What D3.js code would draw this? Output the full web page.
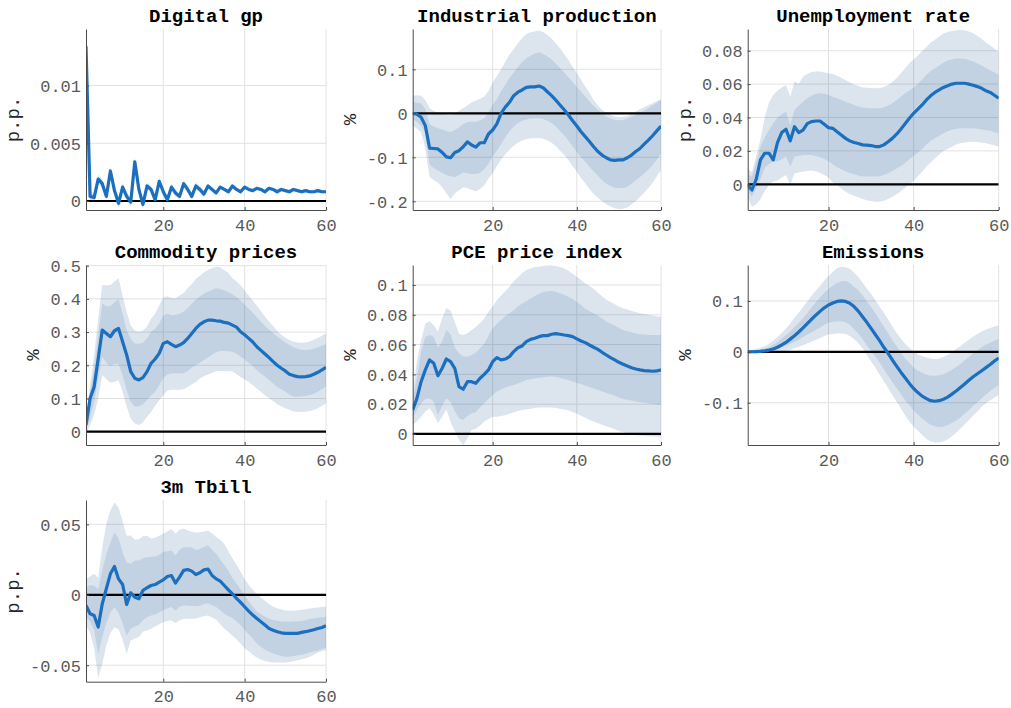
<!DOCTYPE html>
<html>
<head>
<meta charset="utf-8">
<script src="https://cdn.jsdelivr.net/npm/d3@7"></script>
<style>
  html, body { margin: 0; padding: 0; background: #fff; }
  svg { display: block; font-family: "Liberation Mono", "DejaVu Sans Mono", monospace; }
</style>
</head>
<body>
<svg id="chart" width="1011" height="708"></svg>
<script>
// Impulse responses over a 60-period horizon: median with 68% and 90% bands.
const horizon = d3.range(1, 61);
const xTickValues = [20, 40, 60];

// Digital gp
const digitalMed = [0.0134, 0.0004, 0.0003, 0.0019, 0.0015, 0.0004, 0.0026, 0.0009, -0.0002, 0.0012,
  0.0004, -0.0001, 0.0034, 0.0010, -0.0003, 0.0013, 0.0010, 0.0001, 0.0017, 0.0008,
  0.0001, 0.0012, 0.0007, 0.0004, 0.0015, 0.0010, 0.0004, 0.0013, 0.0010, 0.0006,
  0.0013, 0.0010, 0.0007, 0.0012, 0.0010, 0.0008, 0.0013, 0.0010, 0.0008, 0.0012,
  0.0010, 0.0009, 0.0011, 0.0010, 0.0008, 0.0011, 0.0010, 0.0008, 0.0010, 0.0009,
  0.0008, 0.0010, 0.0009, 0.0008, 0.0009, 0.0008, 0.0008, 0.0009, 0.0008, 0.0008];
const digitalHi90 = [0.0135, 0.0008, 0.0007, 0.0023, 0.0019, 0.0008, 0.0030, 0.0013, 0.0002, 0.0016,
  0.0008, 0.0003, 0.0038, 0.0014, 0.0001, 0.0016, 0.0013, 0.0004, 0.0020, 0.0011,
  0.0004, 0.0015, 0.0010, 0.0007, 0.0018, 0.0013, 0.0007, 0.0016, 0.0013, 0.0009,
  0.00145, 0.00115, 0.00085, 0.00135, 0.00115, 0.00095, 0.00145, 0.00115, 0.00095, 0.00135,
  0.00115, 0.00105, 0.00125, 0.00115, 0.00095, 0.00125, 0.00115, 0.00095, 0.00115, 0.00105,
  0.00095, 0.00115, 0.00105, 0.00095, 0.00105, 0.00095, 0.00095, 0.00105, 0.00095, 0.00095];
const digitalLo90 = [0.0133, 0.0000, -0.0001, 0.0015, 0.0011, 0.0000, 0.0022, 0.0005, -0.0006, 0.0008,
  0.0000, -0.0005, 0.0030, 0.0006, -0.0007, 0.0010, 0.0007, -0.0002, 0.0014, 0.0005,
  -0.0002, 0.0009, 0.0004, 0.0001, 0.0012, 0.0007, 0.0001, 0.0010, 0.0007, 0.0003,
  0.00115, 0.00085, 0.00055, 0.00105, 0.00085, 0.00065, 0.00115, 0.00085, 0.00065, 0.00105,
  0.00085, 0.00075, 0.00095, 0.00085, 0.00065, 0.00095, 0.00085, 0.00065, 0.00085, 0.00075,
  0.00065, 0.00085, 0.00075, 0.00065, 0.00075, 0.00065, 0.00065, 0.00075, 0.00065, 0.00065];
const digitalHi68 = [0.01345, 0.0006, 0.0005, 0.0021, 0.0017, 0.0006, 0.0028, 0.0011, 0.0000, 0.0014,
  0.0006, 0.0001, 0.0036, 0.0012, -0.0001, 0.00145, 0.00115, 0.00025, 0.00185, 0.00095,
  0.00025, 0.00135, 0.00085, 0.00055, 0.00165, 0.00115, 0.00055, 0.00145, 0.00115, 0.00075,
  0.00138, 0.00108, 0.00078, 0.00128, 0.00108, 0.00088, 0.00138, 0.00108, 0.00088, 0.00128,
  0.00108, 0.00098, 0.00118, 0.00108, 0.00088, 0.00118, 0.00108, 0.00088, 0.00108, 0.00098,
  0.00088, 0.00108, 0.00098, 0.00088, 0.00098, 0.00088, 0.00088, 0.00098, 0.00088, 0.00088];
const digitalLo68 = [0.01335, 0.0002, 0.0001, 0.0017, 0.0013, 0.0002, 0.0024, 0.0007, -0.0004, 0.0010,
  0.0002, -0.0003, 0.0032, 0.0008, -0.0005, 0.00115, 0.00085, -0.00005, 0.00155, 0.00065,
  -0.00005, 0.00105, 0.00055, 0.00025, 0.00135, 0.00085, 0.00025, 0.00115, 0.00085, 0.00045,
  0.00122, 0.00092, 0.00062, 0.00112, 0.00092, 0.00072, 0.00122, 0.00092, 0.00072, 0.00112,
  0.00092, 0.00082, 0.00102, 0.00092, 0.00072, 0.00102, 0.00092, 0.00072, 0.00092, 0.00082,
  0.00072, 0.00092, 0.00082, 0.00072, 0.00082, 0.00072, 0.00072, 0.00082, 0.00072, 0.00072];
const digitalYLim = [-0.00078, 0.0149];
const digitalYTicks = [0, 0.005, 0.01];
const digitalYTickLabels = ["0", "0.005", "0.01"];

// Industrial production
const ipMed = [0.000, -0.002, -0.009, -0.028, -0.079, -0.080, -0.081, -0.089, -0.099, -0.101,
  -0.089, -0.085, -0.076, -0.065, -0.072, -0.077, -0.067, -0.067, -0.047, -0.038,
  -0.024, 0.000, 0.014, 0.025, 0.040, 0.048, 0.053, 0.059, 0.060, 0.060,
  0.062, 0.058, 0.049, 0.040, 0.030, 0.019, 0.008, -0.004, -0.017, -0.029,
  -0.042, -0.053, -0.064, -0.076, -0.087, -0.095, -0.101, -0.106, -0.107, -0.106,
  -0.106, -0.101, -0.095, -0.087, -0.080, -0.070, -0.061, -0.051, -0.040, -0.029];
const ipHi90 = [0.040, 0.041, 0.040, 0.030, 0.012, 0.005, 0.002, -0.001, -0.003, -0.004,
  0.000, 0.006, 0.012, 0.018, 0.025, 0.029, 0.033, 0.038, 0.050, 0.070,
  0.085, 0.100, 0.117, 0.133, 0.146, 0.159, 0.171, 0.180, 0.184, 0.186,
  0.188, 0.185, 0.178, 0.170, 0.159, 0.148, 0.135, 0.121, 0.106, 0.091,
  0.076, 0.061, 0.046, 0.030, 0.018, 0.008, 0.001, -0.004, -0.007, -0.009,
  -0.008, -0.006, -0.001, 0.004, 0.009, 0.014, 0.019, 0.023, 0.028, 0.032];
const ipHi68 = [0.025, 0.024, 0.022, 0.010, -0.025, -0.030, -0.034, -0.037, -0.040, -0.043,
  -0.038, -0.032, -0.025, -0.020, -0.019, -0.020, -0.016, -0.012, 0.002, 0.020,
  0.032, 0.050, 0.065, 0.080, 0.093, 0.105, 0.116, 0.125, 0.131, 0.136,
  0.138, 0.135, 0.129, 0.123, 0.113, 0.103, 0.093, 0.082, 0.071, 0.060,
  0.049, 0.038, 0.027, 0.017, 0.008, 0.000, -0.007, -0.012, -0.015, -0.016,
  -0.015, -0.012, -0.008, -0.004, 0.001, 0.006, 0.012, 0.018, 0.024, 0.030];
const ipLo68 = [-0.013, -0.020, -0.028, -0.045, -0.115, -0.125, -0.130, -0.135, -0.140, -0.143,
  -0.145, -0.140, -0.134, -0.136, -0.138, -0.138, -0.135, -0.127, -0.115, -0.098,
  -0.085, -0.070, -0.055, -0.040, -0.030, -0.022, -0.017, -0.014, -0.012, -0.011,
  -0.011, -0.013, -0.017, -0.022, -0.030, -0.040, -0.050, -0.062, -0.075, -0.088,
  -0.100, -0.110, -0.122, -0.132, -0.142, -0.152, -0.160, -0.165, -0.169, -0.170,
  -0.170, -0.167, -0.160, -0.152, -0.145, -0.137, -0.128, -0.118, -0.105, -0.091];
const ipLo90 = [-0.028, -0.035, -0.043, -0.080, -0.145, -0.152, -0.158, -0.168, -0.182, -0.195,
  -0.182, -0.175, -0.168, -0.170, -0.174, -0.178, -0.172, -0.164, -0.148, -0.136,
  -0.120, -0.105, -0.093, -0.083, -0.074, -0.067, -0.062, -0.059, -0.057, -0.057,
  -0.056, -0.058, -0.062, -0.067, -0.075, -0.085, -0.095, -0.106, -0.120, -0.133,
  -0.147, -0.159, -0.172, -0.183, -0.192, -0.200, -0.207, -0.212, -0.216, -0.218,
  -0.217, -0.214, -0.207, -0.200, -0.190, -0.180, -0.170, -0.158, -0.143, -0.129];
const ipYLim = [-0.2198, 0.1916];
const ipYTicks = [-0.2, -0.1, 0, 0.1];
const ipYTickLabels = ["-0.2", "-0.1", "0", "0.1"];

// Unemployment rate
const unMed = [-0.0006, -0.0034, 0.0030, 0.0146, 0.0186, 0.0186, 0.0146, 0.0250, 0.0310, 0.0330,
  0.0260, 0.0345, 0.0310, 0.0325, 0.0363, 0.0375, 0.0379, 0.0379, 0.0359, 0.0339,
  0.0335, 0.0315, 0.0295, 0.0275, 0.0260, 0.0250, 0.0244, 0.0236, 0.0234, 0.0232,
  0.0226, 0.0226, 0.0236, 0.0255, 0.0275, 0.0300, 0.0330, 0.0362, 0.0395, 0.0425,
  0.0450, 0.0475, 0.0505, 0.0530, 0.0550, 0.0565, 0.0580, 0.0590, 0.0600, 0.0605,
  0.0605, 0.0605, 0.0600, 0.0593, 0.0585, 0.0575, 0.0560, 0.0550, 0.0533, 0.0515];
const unHi90 = [0.0096, 0.0070, 0.0170, 0.0270, 0.0400, 0.0490, 0.0535, 0.0560, 0.0580, 0.0595,
  0.0525, 0.0615, 0.0600, 0.0645, 0.0660, 0.0672, 0.0675, 0.0675, 0.0670, 0.0665,
  0.0660, 0.0650, 0.0638, 0.0625, 0.0610, 0.0598, 0.0588, 0.0580, 0.0578, 0.0576,
  0.0575, 0.0575, 0.0582, 0.0595, 0.0612, 0.0635, 0.0665, 0.0695, 0.0725, 0.0748,
  0.0772, 0.0798, 0.0822, 0.0847, 0.0866, 0.0885, 0.0903, 0.0912, 0.0918, 0.0922,
  0.0924, 0.0922, 0.0915, 0.0904, 0.0890, 0.0872, 0.0848, 0.0832, 0.0812, 0.0794];
const unHi68 = [0.0056, 0.0048, 0.0130, 0.0225, 0.0280, 0.0325, 0.0365, 0.0398, 0.0420, 0.0435,
  0.0355, 0.0445, 0.0470, 0.0495, 0.0515, 0.0530, 0.0540, 0.0545, 0.0542, 0.0535,
  0.0525, 0.0515, 0.0505, 0.0495, 0.0485, 0.0475, 0.0466, 0.0460, 0.0457, 0.0455,
  0.0455, 0.0456, 0.0462, 0.0472, 0.0485, 0.0505, 0.0525, 0.0545, 0.0562, 0.0578,
  0.0602, 0.0628, 0.0655, 0.0678, 0.0695, 0.0712, 0.0728, 0.0741, 0.0748, 0.0753,
  0.0754, 0.0752, 0.0745, 0.0735, 0.0724, 0.0712, 0.0696, 0.0683, 0.0669, 0.0655];
const unLo68 = [-0.0034, -0.0074, -0.0020, 0.0030, 0.0100, 0.0122, 0.0136, 0.0136, 0.0150, 0.0166,
  0.0106, 0.0166, 0.0170, 0.0176, 0.0176, 0.0176, 0.0170, 0.0162, 0.0152, 0.0138,
  0.0120, 0.0102, 0.0090, 0.0078, 0.0068, 0.0060, 0.0053, 0.0048, 0.0046, 0.0046,
  0.0046, 0.0048, 0.0055, 0.0066, 0.0080, 0.0095, 0.0110, 0.0128, 0.0150, 0.0170,
  0.0190, 0.0212, 0.0238, 0.0260, 0.0275, 0.0290, 0.0305, 0.0318, 0.0326, 0.0332,
  0.0335, 0.0336, 0.0335, 0.0335, 0.0332, 0.0328, 0.0324, 0.0320, 0.0312, 0.0305];
const unLo90 = [-0.0074, -0.0134, -0.0120, -0.0090, -0.0040, -0.0005, 0.0016, 0.0022, 0.0040, 0.0056,
  -0.0004, 0.0066, 0.0070, 0.0076, 0.0080, 0.0082, 0.0078, 0.0068, 0.0056, 0.0040,
  0.0010, -0.0004, -0.0025, -0.0045, -0.0058, -0.0068, -0.0078, -0.0088, -0.0096, -0.0100,
  -0.0104, -0.0104, -0.0098, -0.0088, -0.0075, -0.0060, -0.0042, -0.0020, 0.0002, 0.0020,
  0.0048, 0.0075, 0.0105, 0.0130, 0.0155, 0.0178, 0.0200, 0.0212, 0.0225, 0.0238,
  0.0246, 0.0250, 0.0254, 0.0255, 0.0254, 0.0250, 0.0246, 0.0240, 0.0232, 0.0225];
const unYLim = [-0.0154, 0.093];
const unYTicks = [0, 0.02, 0.04, 0.06, 0.08];
const unYTickLabels = ["0", "0.02", "0.04", "0.06", "0.08"];

// Commodity prices
const comMed = [0.020, 0.100, 0.135, 0.220, 0.306, 0.296, 0.286, 0.304, 0.311, 0.271,
  0.231, 0.181, 0.161, 0.156, 0.163, 0.181, 0.206, 0.219, 0.236, 0.266,
  0.271, 0.263, 0.256, 0.261, 0.268, 0.281, 0.296, 0.311, 0.323, 0.331,
  0.336, 0.336, 0.334, 0.333, 0.329, 0.327, 0.321, 0.315, 0.301, 0.292,
  0.281, 0.270, 0.256, 0.245, 0.234, 0.223, 0.211, 0.200, 0.191, 0.183,
  0.173, 0.169, 0.166, 0.165, 0.166, 0.168, 0.173, 0.179, 0.186, 0.194];
const comHi90 = [0.040, 0.140, 0.230, 0.340, 0.442, 0.441, 0.442, 0.452, 0.462, 0.410,
  0.360, 0.320, 0.305, 0.300, 0.305, 0.316, 0.340, 0.355, 0.380, 0.405,
  0.408, 0.403, 0.402, 0.410, 0.418, 0.432, 0.445, 0.460, 0.470, 0.480,
  0.487, 0.493, 0.497, 0.495, 0.487, 0.478, 0.462, 0.452, 0.440, 0.425,
  0.410, 0.395, 0.379, 0.363, 0.347, 0.332, 0.318, 0.303, 0.292, 0.283,
  0.276, 0.271, 0.269, 0.268, 0.269, 0.272, 0.277, 0.282, 0.289, 0.296];
const comHi68 = [0.030, 0.120, 0.190, 0.290, 0.387, 0.378, 0.378, 0.390, 0.400, 0.355,
  0.305, 0.280, 0.266, 0.265, 0.268, 0.281, 0.300, 0.310, 0.326, 0.350,
  0.355, 0.351, 0.352, 0.355, 0.362, 0.372, 0.385, 0.397, 0.407, 0.416,
  0.422, 0.427, 0.432, 0.430, 0.425, 0.420, 0.414, 0.405, 0.395, 0.383,
  0.370, 0.358, 0.345, 0.331, 0.318, 0.307, 0.297, 0.287, 0.278, 0.269,
  0.261, 0.254, 0.250, 0.247, 0.246, 0.247, 0.250, 0.254, 0.259, 0.264];
const comLo68 = [0.005, 0.040, 0.090, 0.160, 0.226, 0.207, 0.198, 0.205, 0.205, 0.170,
  0.125, 0.090, 0.075, 0.077, 0.083, 0.095, 0.110, 0.120, 0.140, 0.162,
  0.172, 0.176, 0.176, 0.175, 0.176, 0.183, 0.193, 0.200, 0.208, 0.216,
  0.224, 0.232, 0.240, 0.243, 0.243, 0.242, 0.241, 0.235, 0.226, 0.218,
  0.207, 0.198, 0.185, 0.175, 0.166, 0.156, 0.145, 0.135, 0.128, 0.120,
  0.112, 0.106, 0.105, 0.106, 0.108, 0.110, 0.114, 0.120, 0.128, 0.136];
const comLo90 = [-0.005, 0.020, 0.050, 0.100, 0.171, 0.158, 0.148, 0.150, 0.155, 0.120,
  0.075, 0.040, 0.025, 0.020, 0.028, 0.045, 0.060, 0.078, 0.095, 0.110,
  0.124, 0.126, 0.126, 0.126, 0.128, 0.135, 0.143, 0.150, 0.160, 0.167,
  0.172, 0.177, 0.183, 0.183, 0.182, 0.182, 0.181, 0.173, 0.165, 0.157,
  0.150, 0.140, 0.130, 0.120, 0.110, 0.101, 0.092, 0.083, 0.077, 0.071,
  0.066, 0.061, 0.060, 0.060, 0.060, 0.062, 0.066, 0.071, 0.078, 0.085];
const comYLim = [-0.04, 0.502];
const comYTicks = [0, 0.1, 0.2, 0.3, 0.4, 0.5];
const comYTickLabels = ["0", "0.1", "0.2", "0.3", "0.4", "0.5"];

// PCE price index
const pceMed = [0.0161, 0.0239, 0.0351, 0.0430, 0.0497, 0.0474, 0.0391, 0.0441, 0.0503, 0.0485,
  0.0441, 0.0318, 0.0300, 0.0351, 0.0351, 0.0340, 0.0374, 0.0400, 0.0430, 0.0485,
  0.0512, 0.0497, 0.0503, 0.0519, 0.0553, 0.0579, 0.0591, 0.0620, 0.0635, 0.0642,
  0.0653, 0.0660, 0.0660, 0.0669, 0.0673, 0.0669, 0.0664, 0.0660, 0.0653, 0.0638,
  0.0624, 0.0613, 0.0597, 0.0582, 0.0568, 0.0548, 0.0530, 0.0512, 0.0497, 0.0481,
  0.0468, 0.0456, 0.0445, 0.0436, 0.0430, 0.0425, 0.0423, 0.0421, 0.0423, 0.0430];
const pceHi90 = [0.0284, 0.0485, 0.0630, 0.0740, 0.0758, 0.0730, 0.0687, 0.0776, 0.0845, 0.0828,
  0.0750, 0.0675, 0.0664, 0.0676, 0.0698, 0.0718, 0.0745, 0.0775, 0.0820, 0.0855,
  0.0899, 0.0930, 0.0960, 0.0988, 0.1025, 0.1050, 0.1080, 0.1100, 0.1110, 0.1120,
  0.1123, 0.1127, 0.1130, 0.1130, 0.1128, 0.1120, 0.1110, 0.1095, 0.1075, 0.1055,
  0.1035, 0.1010, 0.0993, 0.0975, 0.0950, 0.0925, 0.0900, 0.0885, 0.0870, 0.0855,
  0.0843, 0.0835, 0.0826, 0.0818, 0.0810, 0.0805, 0.0800, 0.0795, 0.0790, 0.0787];
const pceHi68 = [0.0217, 0.0380, 0.0553, 0.0650, 0.0664, 0.0650, 0.0580, 0.0620, 0.0698, 0.0670,
  0.0580, 0.0540, 0.0520, 0.0519, 0.0530, 0.0545, 0.0575, 0.0605, 0.0660, 0.0709,
  0.0740, 0.0765, 0.0790, 0.0810, 0.0830, 0.0855, 0.0875, 0.0890, 0.0910, 0.0925,
  0.0940, 0.0952, 0.0958, 0.0960, 0.0955, 0.0945, 0.0935, 0.0920, 0.0905, 0.0885,
  0.0865, 0.0840, 0.0825, 0.0810, 0.0795, 0.0775, 0.0755, 0.0742, 0.0728, 0.0712,
  0.0698, 0.0690, 0.0682, 0.0675, 0.0669, 0.0667, 0.0665, 0.0665, 0.0664, 0.0664];
const pceLo68 = [0.0116, 0.0160, 0.0206, 0.0235, 0.0240, 0.0217, 0.0128, 0.0190, 0.0239, 0.0215,
  0.0155, 0.0105, 0.0094, 0.0120, 0.0139, 0.0148, 0.0180, 0.0206, 0.0235, 0.0262,
  0.0285, 0.0300, 0.0312, 0.0322, 0.0329, 0.0338, 0.0350, 0.0362, 0.0368, 0.0373,
  0.0378, 0.0381, 0.0384, 0.0385, 0.0382, 0.0376, 0.0370, 0.0362, 0.0352, 0.0342,
  0.0335, 0.0325, 0.0315, 0.0306, 0.0297, 0.0285, 0.0275, 0.0266, 0.0256, 0.0245,
  0.0235, 0.0230, 0.0224, 0.0218, 0.0213, 0.0210, 0.0205, 0.0201, 0.0198, 0.0195];
const pceLo90 = [0.0060, 0.0083, 0.0116, 0.0150, 0.0172, 0.0130, 0.0070, 0.0116, 0.0165, 0.0080,
  0.0020, -0.0040, -0.0074, -0.0030, 0.0027, 0.0035, 0.0055, 0.0083, 0.0100, 0.0116,
  0.0116, 0.0120, 0.0125, 0.0135, 0.0145, 0.0155, 0.0161, 0.0165, 0.0170, 0.0175,
  0.0177, 0.0177, 0.0177, 0.0177, 0.0175, 0.0170, 0.0165, 0.0158, 0.0148, 0.0135,
  0.0122, 0.0110, 0.0095, 0.0083, 0.0072, 0.0062, 0.0052, 0.0042, 0.0032, 0.0020,
  0.0011, 0.0005, -0.0002, -0.0008, -0.0011, -0.0014, -0.0016, -0.0017, -0.0018, -0.0018];
const pceYLim = [-0.0074, 0.1134];
const pceYTicks = [0, 0.02, 0.04, 0.06, 0.08, 0.1];
const pceYTickLabels = ["0", "0.02", "0.04", "0.06", "0.08", "0.1"];

// Emissions
const emMed = [0.000, 0.0002, 0.0005, 0.001, 0.002, 0.0035, 0.0055, 0.009, 0.0135, 0.0185,
  0.025, 0.0315, 0.039, 0.047, 0.0555, 0.064, 0.072, 0.0795, 0.0865, 0.092,
  0.096, 0.099, 0.100, 0.099, 0.0955, 0.089, 0.080, 0.069, 0.058, 0.046,
  0.034, 0.022, 0.009, -0.003, -0.016, -0.028, -0.040, -0.051, -0.062, -0.072,
  -0.080, -0.087, -0.092, -0.096, -0.097, -0.096, -0.093, -0.089, -0.083, -0.077,
  -0.070, -0.063, -0.056, -0.049, -0.043, -0.037, -0.031, -0.025, -0.018, -0.012];
const emHi90 = [0.003, 0.004, 0.006, 0.008, 0.011, 0.016, 0.022, 0.029, 0.037, 0.046,
  0.055, 0.067, 0.077, 0.088, 0.099, 0.110, 0.120, 0.130, 0.140, 0.149,
  0.157, 0.164, 0.167, 0.166, 0.163, 0.156, 0.147, 0.136, 0.124, 0.114,
  0.102, 0.089, 0.077, 0.064, 0.050, 0.037, 0.026, 0.016, 0.008, 0.001,
  -0.005, -0.008, -0.011, -0.013, -0.014, -0.013, -0.010, -0.006, -0.001, 0.006,
  0.011, 0.018, 0.024, 0.030, 0.035, 0.040, 0.044, 0.047, 0.050, 0.052];
const emHi68 = [0.001, 0.002, 0.003, 0.005, 0.006, 0.009, 0.014, 0.019, 0.026, 0.033,
  0.040, 0.049, 0.057, 0.066, 0.076, 0.087, 0.097, 0.107, 0.116, 0.124,
  0.130, 0.135, 0.138, 0.139, 0.135, 0.128, 0.121, 0.111, 0.099, 0.088,
  0.076, 0.063, 0.050, 0.037, 0.023, 0.011, -0.001, -0.013, -0.022, -0.031,
  -0.037, -0.041, -0.045, -0.047, -0.047, -0.046, -0.044, -0.040, -0.035, -0.030,
  -0.024, -0.017, -0.010, -0.003, 0.003, 0.009, 0.014, 0.018, 0.022, 0.025];
const emLo68 = [-0.001, -0.001, -0.001, -0.001, 0.000, 0.001, 0.003, 0.006, 0.009, 0.012,
  0.016, 0.020, 0.024, 0.029, 0.034, 0.038, 0.043, 0.048, 0.053, 0.057,
  0.059, 0.060, 0.060, 0.058, 0.053, 0.045, 0.036, 0.025, 0.013, 0.002,
  -0.009, -0.021, -0.034, -0.047, -0.059, -0.071, -0.083, -0.095, -0.105, -0.115,
  -0.123, -0.131, -0.138, -0.143, -0.146, -0.148, -0.147, -0.144, -0.140, -0.135,
  -0.129, -0.121, -0.114, -0.106, -0.099, -0.091, -0.084, -0.077, -0.071, -0.065];
const emLo90 = [-0.003, -0.003, -0.003, -0.002, -0.002, -0.001, -0.001, 0.000, 0.001, 0.002,
  0.004, 0.007, 0.010, 0.013, 0.017, 0.020, 0.024, 0.027, 0.031, 0.034,
  0.035, 0.036, 0.036, 0.035, 0.031, 0.025, 0.017, 0.007, -0.006, -0.019,
  -0.031, -0.045, -0.058, -0.071, -0.085, -0.098, -0.111, -0.125, -0.137, -0.147,
  -0.155, -0.163, -0.171, -0.176, -0.178, -0.178, -0.176, -0.172, -0.166, -0.159,
  -0.151, -0.142, -0.134, -0.125, -0.117, -0.108, -0.101, -0.095, -0.090, -0.085];
const emYLim = [-0.183, 0.1706];
const emYTicks = [-0.1, 0, 0.1];
const emYTickLabels = ["-0.1", "0", "0.1"];

// 3m Tbill
const tbMed = [-0.0076, -0.0135, -0.0147, -0.0229, -0.0064, 0.0043, 0.0149, 0.0201, 0.0113, 0.0073,
  -0.0069, 0.0014, -0.0017, -0.0028, 0.0031, 0.0050, 0.0066, 0.0073, 0.0090, 0.0106,
  0.0130, 0.0137, 0.0083, 0.0125, 0.0173, 0.0180, 0.0168, 0.0144, 0.0156, 0.0177,
  0.0182, 0.0137, 0.0113, 0.0097, 0.0066, 0.0035, 0.0007, -0.0026, -0.0054, -0.0085,
  -0.0116, -0.0144, -0.0168, -0.0191, -0.0215, -0.0239, -0.0251, -0.0262, -0.0270, -0.0274,
  -0.0274, -0.0274, -0.0274, -0.0267, -0.0262, -0.0255, -0.0248, -0.0239, -0.0232, -0.0220];
const tbHi90 = [0.0113, 0.0130, 0.0149, 0.0120, 0.0338, 0.0505, 0.0600, 0.0655, 0.0620, 0.0520,
  0.0420, 0.0421, 0.0390, 0.0395, 0.0415, 0.0420, 0.0400, 0.0405, 0.0420, 0.0433,
  0.0450, 0.0468, 0.0433, 0.0462, 0.0470, 0.0456, 0.0447, 0.0440, 0.0444, 0.0450,
  0.0456, 0.0435, 0.0410, 0.0390, 0.0360, 0.0310, 0.0260, 0.0215, 0.0165, 0.0110,
  0.0072, 0.0035, 0.0005, -0.0020, -0.0042, -0.0065, -0.0084, -0.0095, -0.0104, -0.0111,
  -0.0113, -0.0113, -0.0110, -0.0107, -0.0103, -0.0098, -0.0093, -0.0090, -0.0087, -0.0085];
const tbHi68 = [0.0054, 0.0068, 0.0065, 0.0040, 0.0173, 0.0290, 0.0370, 0.0444, 0.0400, 0.0300,
  0.0230, 0.0220, 0.0243, 0.0243, 0.0260, 0.0267, 0.0270, 0.0272, 0.0285, 0.0303,
  0.0310, 0.0314, 0.0279, 0.0320, 0.0338, 0.0338, 0.0335, 0.0318, 0.0325, 0.0340,
  0.0350, 0.0320, 0.0291, 0.0250, 0.0212, 0.0170, 0.0120, 0.0080, 0.0040, -0.0005,
  -0.0045, -0.0085, -0.0120, -0.0138, -0.0155, -0.0168, -0.0180, -0.0185, -0.0189, -0.0191,
  -0.0191, -0.0190, -0.0188, -0.0186, -0.0180, -0.0172, -0.0168, -0.0163, -0.0159, -0.0156];
const tbLo68 = [-0.0158, -0.0190, -0.0250, -0.0420, -0.0300, -0.0200, -0.0125, -0.0087, -0.0130, -0.0200,
  -0.0290, -0.0241, -0.0225, -0.0215, -0.0180, -0.0160, -0.0147, -0.0140, -0.0125, -0.0110,
  -0.0095, -0.0087, -0.0111, -0.0085, -0.0076, -0.0078, -0.0080, -0.0082, -0.0078, -0.0065,
  -0.0060, -0.0075, -0.0087, -0.0110, -0.0135, -0.0150, -0.0165, -0.0190, -0.0215, -0.0250,
  -0.0280, -0.0310, -0.0345, -0.0370, -0.0390, -0.0405, -0.0416, -0.0425, -0.0434, -0.0440,
  -0.0440, -0.0435, -0.0430, -0.0425, -0.0418, -0.0410, -0.0402, -0.0395, -0.0385, -0.0376];
const tbLo90 = [-0.0217, -0.0270, -0.0380, -0.0590, -0.0490, -0.0360, -0.0270, -0.0230, -0.0245, -0.0320,
  -0.0420, -0.0324, -0.0310, -0.0300, -0.0260, -0.0253, -0.0241, -0.0225, -0.0210, -0.0195,
  -0.0185, -0.0182, -0.0201, -0.0180, -0.0170, -0.0170, -0.0170, -0.0168, -0.0160, -0.0152,
  -0.0147, -0.0160, -0.0177, -0.0210, -0.0241, -0.0265, -0.0290, -0.0315, -0.0345, -0.0380,
  -0.0400, -0.0425, -0.0445, -0.0460, -0.0470, -0.0478, -0.0480, -0.0480, -0.0480, -0.0480,
  -0.0478, -0.0472, -0.0465, -0.0458, -0.0450, -0.0440, -0.0425, -0.0410, -0.0400, -0.0392];
const tbYLim = [-0.0617, 0.0673];
const tbYTicks = [-0.05, 0, 0.05];
const tbYTickLabels = ["-0.05", "0", "0.05"];

const titles = ["Digital gp", "Industrial production", "Unemployment rate",
  "Commodity prices", "PCE price index", "Emissions", "3m Tbill"];
const units = ["p.p.", "%", "p.p.", "%", "%", "%", "p.p."];

const panels = [
  { med: digitalMed, lo68: digitalLo68, hi68: digitalHi68, lo90: digitalLo90, hi90: digitalHi90,
    yLim: digitalYLim, yTicks: digitalYTicks, yLabels: digitalYTickLabels },
  { med: ipMed, lo68: ipLo68, hi68: ipHi68, lo90: ipLo90, hi90: ipHi90,
    yLim: ipYLim, yTicks: ipYTicks, yLabels: ipYTickLabels },
  { med: unMed, lo68: unLo68, hi68: unHi68, lo90: unLo90, hi90: unHi90,
    yLim: unYLim, yTicks: unYTicks, yLabels: unYTickLabels },
  { med: comMed, lo68: comLo68, hi68: comHi68, lo90: comLo90, hi90: comHi90,
    yLim: comYLim, yTicks: comYTicks, yLabels: comYTickLabels },
  { med: pceMed, lo68: pceLo68, hi68: pceHi68, lo90: pceLo90, hi90: pceHi90,
    yLim: pceYLim, yTicks: pceYTicks, yLabels: pceYTickLabels },
  { med: emMed, lo68: emLo68, hi68: emHi68, lo90: emLo90, hi90: emHi90,
    yLim: emYLim, yTicks: emYTicks, yLabels: emYTickLabels },
  { med: tbMed, lo68: tbLo68, hi68: tbHi68, lo90: tbLo90, hi90: tbHi90,
    yLim: tbYLim, yTicks: tbYTicks, yLabels: tbYTickLabels }
];

// Subplot grid: 3 columns x 3 rows of axes boxes
const colBounds = [[86, 326], [412.7, 661], [747.7, 998.7]];
const rowBounds = [[29, 210], [265, 445], [500, 681.7]];

const style = {
  line: "#1b6fbe",
  grid: "#e2e2e2",
  axis: "#4a4a4a",
  tickText: "#5a5a5a"
};

const svg = d3.select("#chart");
const defs = svg.append("defs");

panels.forEach((p, i) => {
  const [x0, x1] = colBounds[i % 3];
  const [y0, y1] = rowBounds[Math.floor(i / 3)];
  const x = d3.scaleLinear().domain([1, 60]).range([x0, x1]);
  const y = d3.scaleLinear().domain(p.yLim).range([y1, y0]);

  const clipId = "plot-clip-" + i;
  defs.append("clipPath").attr("id", clipId)
    .append("rect").attr("x", x0).attr("y", y0).attr("width", x1 - x0).attr("height", y1 - y0);

  const g = svg.append("g");

  // grid
  g.append("g").selectAll("line").data(xTickValues).join("line")
    .attr("x1", d => x(d)).attr("x2", d => x(d)).attr("y1", y0).attr("y2", y1)
    .attr("stroke", style.grid).attr("stroke-width", 1);
  g.append("g").selectAll("line").data(p.yTicks).join("line")
    .attr("x1", x0).attr("x2", x1).attr("y1", d => y(d)).attr("y2", d => y(d))
    .attr("stroke", style.grid).attr("stroke-width", 1);

  const plot = g.append("g").attr("clip-path", `url(#${clipId})`);

  const band = (lo, hi) => d3.area()
    .x(d => x(d))
    .y0((d, j) => y(lo[j]))
    .y1((d, j) => y(hi[j]));

  plot.append("path").datum(horizon)
    .attr("d", band(p.lo90, p.hi90))
    .attr("fill", "#0a3f86").attr("fill-opacity", 0.14);
  plot.append("path").datum(horizon)
    .attr("d", band(p.lo68, p.hi68))
    .attr("fill", "#0a4f96").attr("fill-opacity", 0.12);

  // zero reference line
  plot.append("line")
    .attr("x1", x0).attr("x2", x1).attr("y1", y(0)).attr("y2", y(0))
    .attr("stroke", "#000").attr("stroke-width", 2.2);

  // median response
  plot.append("path").datum(horizon)
    .attr("d", d3.line().x(d => x(d)).y((d, j) => y(p.med[j])))
    .attr("fill", "none").attr("stroke", style.line)
    .attr("stroke-width", 3.2).attr("stroke-linejoin", "round");

  // axes
  const xAxis = d3.axisBottom(x).tickValues(xTickValues).tickFormat(d3.format("d"))
    .tickSize(-3).tickSizeOuter(0).tickPadding(8.5);
  const xg = g.append("g").attr("transform", `translate(0,${y1})`).call(xAxis);

  const yAxis = d3.axisLeft(y).tickValues(p.yTicks)
    .tickFormat((d, k) => p.yLabels[k])
    .tickSize(-3).tickSizeOuter(0).tickPadding(5);
  const yg = g.append("g").attr("transform", `translate(${x0},0)`).call(yAxis);

  [xg, yg].forEach(ax => {
    ax.select(".domain").attr("stroke", style.axis).attr("stroke-width", 1);
    ax.selectAll(".tick line").attr("stroke", style.axis).attr("stroke-width", 1);
    ax.selectAll(".tick text")
      .attr("fill", style.tickText)
      .style("font-family", '"Liberation Mono", monospace')
      .style("font-size", "17px");
  });
  yg.selectAll(".tick text").attr("dy", "0.34em");

  // title
  g.append("text")
    .attr("x", (x0 + x1) / 2).attr("y", y0 - 7.5)
    .attr("text-anchor", "middle")
    .style("font-family", '"Liberation Mono", monospace')
    .style("font-weight", "bold").style("font-size", "19px")
    .attr("fill", "#000")
    .text(titles[i]);

  // unit label, placed to the left of the widest tick label
  const bb = yg.node().getBBox();
  const labelX = x0 + bb.x - 11;
  const yc = (y0 + y1) / 2;
  g.append("text")
    .attr("transform", `translate(${labelX},${yc}) rotate(-90)`)
    .attr("text-anchor", "middle")
    .style("font-family", '"Liberation Mono", monospace')
    .style("font-size", "19px")
    .attr("fill", "#262626")
    .text(units[i]);
});
</script>
</body>
</html>
